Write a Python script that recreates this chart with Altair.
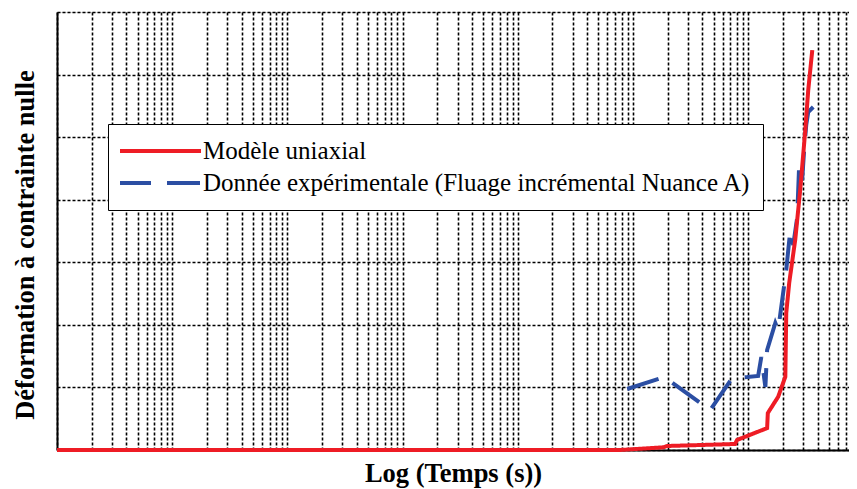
import altair as alt
import pandas as pd

# Series names
series_names = ["Modèle uniaxial", "Donnée expérimentale (Fluage incrémental Nuance A)"]

# Modèle uniaxial (red, solid)
model_time = [1, 7.7e4, 1.83e5, 1.98e5, 7.7e5, 8.0e5, 1.46e6, 1.48e6, 1.82e6, 2.10e6,
              2.14e6, 2.27e6, 2.56e6, 2.83e6, 3.13e6, 3.32e6, 3.60e6]
model_def = [0.0, 0.0, 0.043, 0.064, 0.096, 0.16, 0.35, 0.59, 0.85, 1.17,
             2.19, 2.67, 3.36, 4.16, 5.11, 5.75, 6.39]

# Donnée expérimentale (blue, dashed)
exp_time = [8.9e4, 1.87e5, 4.68e5, 7.26e5, 9.8e5, 1.22e6, 1.30e6, 1.41e6, 1.46e6, 1.72e6,
            1.82e6, 2.14e6, 2.32e6, 2.46e6, 2.66e6, 2.77e6, 2.94e6, 3.06e6, 3.19e6, 3.32e6, 3.67e6]
exp_def = [0.975, 1.167, 0.639, 1.151, 1.167, 1.183, 1.487, 1.007, 1.598, 2.03,
           1.918, 2.877, 3.516, 3.276, 3.708, 4.555, 4.315, 4.795, 5.194, 5.402, 5.482]

# Axis grid values
x_grid = [m * 10 ** k for k in range(0, 7) for m in range(1, 10)]
y_grid = [0, 1, 2, 3, 4, 5, 6, 7]

rows = []
for i, (t, d) in enumerate(zip(exp_time, exp_def)):
    rows.append({"serie": series_names[1], "t": t, "d": d, "i": i})
for i, (t, d) in enumerate(zip(model_time, model_def)):
    rows.append({"serie": series_names[0], "t": t, "d": d, "i": i})
df = pd.DataFrame(rows)

FONT = "Liberation Serif"

legend = alt.Legend(title=None, orient="none", legendX=51, legendY=112,
                    fillColor="white", strokeColor="black",
                    padding=12, symbolType="stroke", symbolSize=6889,
                    symbolStrokeWidth=4, symbolOffset=-4, clipHeight=30,
                    rowPadding=2, labelOffset=0, labelFont=FONT,
                    labelFontSize=25, labelColor="black", labelLimit=900)

grid_style = dict(labels=False, ticks=False, grid=True,
                  gridDash=[3, 2], gridColor="black", gridWidth=1.6, gridOpacity=1,
                  domain=True, domainColor="black", domainWidth=2)

chart = alt.Chart(df).mark_line(strokeWidth=4).encode(
    x=alt.X("t:Q",
            scale=alt.Scale(type="log", domain=[1, 7.5e6], nice=False),
            axis=alt.Axis(values=x_grid, **grid_style,
                          title="Log (Temps (s))", titleFont=FONT, titleFontWeight="bold",
                          titleFontSize=26.5, titleColor="black", titleX=396, titleY=31,
                          titleBaseline="alphabetic", titleAlign="center")),
    y=alt.Y("d:Q",
            scale=alt.Scale(domain=[0, 7], nice=False, zero=True),
            axis=alt.Axis(values=y_grid, **grid_style,
                          title="Déformation à contrainte nulle", titleFont=FONT,
                          titleFontWeight="bold", titleFontSize=26.5, titleColor="black",
                          titleX=-23.5, titleY=232.5, titleAngle=270,
                          titleBaseline="alphabetic", titleAlign="center")),
    color=alt.Color("serie:N",
                    scale=alt.Scale(domain=series_names, range=["#ee1c25", "#2b4ea3"]),
                    legend=legend),
    strokeDash=alt.StrokeDash("serie:N",
                              scale=alt.Scale(domain=series_names, range=[[1, 0], [33, 16]]),
                              legend=legend),
    order="i:Q",
).properties(
    width=792,
    height=438,
    autosize=alt.AutoSizeParams(type="none"),
    padding={"left": 49, "top": 4, "right": 0, "bottom": 39},
).configure_view(stroke=None).configure_legend(strokeWidth=2).configure(background="white")

chart.save("out.html", embed_options={"renderer": "svg", "actions": False})
